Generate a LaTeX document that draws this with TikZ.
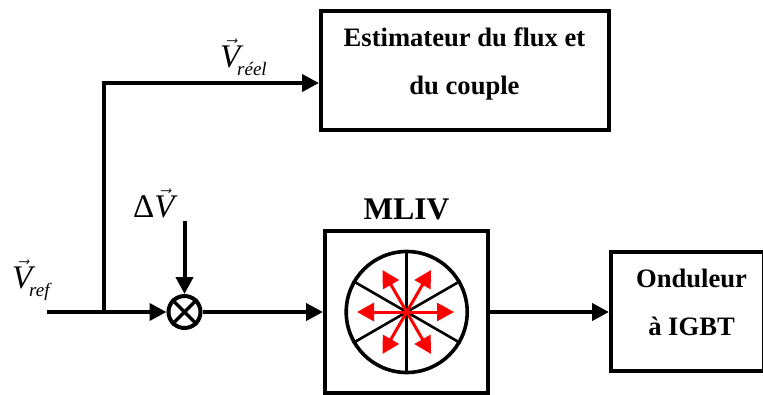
\documentclass[tikz,border=0pt]{standalone}
\usepackage{fontspec}
\setmainfont{Liberation Serif}
\usetikzlibrary{arrows.meta,positioning,calc}
\newcommand{\bigV}{$\vec{\hbox{\itshape V}}$}
\tikzset{
  x=1pt,y=-1pt,
  boxnode/.style={draw=black,line width=4pt,fill=white,inner sep=0pt},
  boxtext/.style={align=center,inner sep=0pt,anchor=base,font=\fontsize{26.6}{48}\selectfont\bfseries},
  wire/.style={draw=black,line width=4pt},
  wirearrow/.style={wire,-{Triangle[length=17pt,width=17pt]}},
  redarrow/.style={draw=red,line width=3pt,-{Triangle[length=17pt,width=18pt]}},
  spoke/.style={draw=black,line width=2.6pt},
  sym/.style={inner sep=0pt,anchor=base west,font=\fontsize{33}{33}\selectfont},
  subs/.style={inner sep=0pt,anchor=base west,font=\fontsize{19}{19}\selectfont\itshape},
}
\begin{document}
\begin{tikzpicture}
\useasboundingbox (0,0) rectangle (763,394);
% blocks
\node[boxnode,minimum width=288pt,minimum height=119pt] (est) at (465,70.5) {};
\node[boxnode,minimum width=163pt,minimum height=162pt] (mliv) at (406.5,312) {};
\node[boxnode,minimum width=153pt,minimum height=119pt] (ond) at (687.5,311) {};
\node[boxtext] (esttext) at (464.5,94) {Estimateur du flux et\\du couple};
\node[boxtext] (ondtext) at (691.5,335) {Onduleur\\à IGBT};
\node[inner sep=0pt,anchor=base,font=\fontsize{31.5}{32}\selectfont\bfseries] (mlivlabel) at (406.5,219) {MLIV};
% summing junction
\node[circle,draw=black,line width=4pt,fill=white,minimum size=32pt,inner sep=0pt] (sum) at (184.5,312) {};
\draw[line width=3.4pt] (sum.north east) -- (sum.south west) (sum.north west) -- (sum.south east);
% wheel
\node[circle,draw=black,line width=3.6pt,minimum size=121pt,inner sep=0pt] (wheel) at (406.7,312) {};
\foreach \a in {90,270,30,150,210,330}
  \draw[spoke] (wheel.center) -- (wheel.\a);
\coordinate (tipE) at (454,312);
\coordinate (tipW) at (357,312);
\coordinate (tipNE) at (431,270);
\coordinate (tipNW) at (382.5,270);
\coordinate (tipSE) at (431,354);
\coordinate (tipSW) at (382.5,354);
\foreach \t in {tipE,tipW,tipNE,tipNW,tipSE,tipSW}
  \draw[redarrow] (wheel.center) -- (\t);
% connectors
\coordinate (start) at (47,312);
\coordinate (branch) at (104,312);
\coordinate (bend) at (104,83);
\coordinate (dvtop) at (184.5,221);
\draw[wire] (start) -- (branch);
\draw[wirearrow] (branch) -- (sum.west);
\draw[wirearrow,line join=miter] (branch) -- (bend) -- (est.west |- bend);
\draw[wirearrow] (dvtop) -- (sum.north);
\draw[wirearrow] (sum.east) -- (mliv.west |- sum.east);
\draw[wirearrow] (mliv.east |- sum.east) -- (ond.west |- sum.east);
% labels
\node[sym] (vreel) at (220,67) {\bigV};
\node[subs] (vreelsub) at (237,75) {réel};
\node[sym] (dv) at (133,217) {Δ\bigV};
\node[sym] (vref) at (12,288) {\bigV};
\node[subs] (vrefsub) at (29,296) {ref};
\end{tikzpicture}
\end{document}
